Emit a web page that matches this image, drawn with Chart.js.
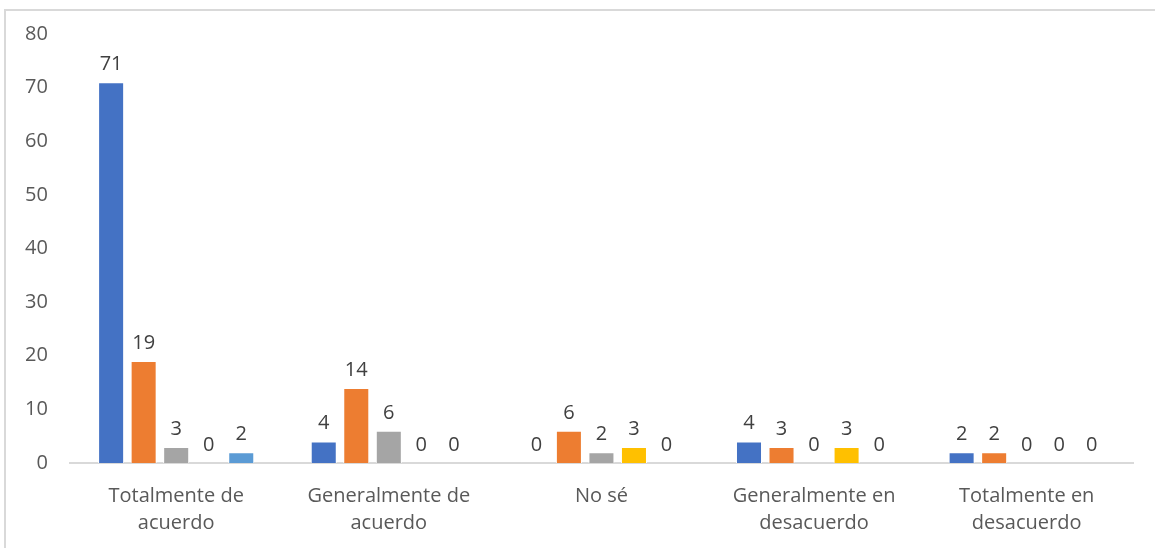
<!DOCTYPE html>
<html>
<head>
<meta charset="utf-8">
<script src="https://cdn.jsdelivr.net/npm/chart.js@4"></script>
<style>
  html, body { margin: 0; padding: 0; background: #fff; overflow: hidden; }
  #wrap { position: absolute; left: 0; top: 0; width: 1155px; height: 548px; }
  #frame { position: absolute; left: 4px; top: 9px; width: 1160px; height: 560px;
           border-left: 2px solid #d9d9d9; border-top: 2px solid #d9d9d9; }
</style>
</head>
<body>
<div id="frame"></div>
<div id="wrap"><canvas id="myChart"></canvas></div>
<script>
// categorias y valores de cada serie
var categorias = [
    ['Totalmente de', 'acuerdo'],
    ['Generalmente de', 'acuerdo'],
    'No sé',
    ['Generalmente en', 'desacuerdo'],
    ['Totalmente en', 'desacuerdo']
];
var serie1 = [71, 4, 0, 4, 2];
var serie2 = [19, 14, 6, 3, 2];
var serie3 = [3, 6, 2, 0, 0];
var serie4 = [0, 0, 3, 3, 0];
var serie5 = [2, 0, 0, 0, 0];
var yTicks = [0, 10, 20, 30, 40, 50, 60, 70, 80];

var colores = ['#4472C4', '#ED7D31', '#A5A5A5', '#FFC000', '#5B9BD5'];
var fuente = '"Open Sans", sans-serif';

// etiquetas de valor encima de cada barra
var valueLabels = {
    id: 'valueLabels',
    afterDatasetsDraw: function (chart) {
        var ctx = chart.ctx;
        ctx.save();
        ctx.font = '20px ' + fuente;
        ctx.fillStyle = '#404040';
        ctx.textAlign = 'center';
        ctx.textBaseline = 'bottom';
        chart.data.datasets.forEach(function (ds, i) {
            chart.getDatasetMeta(i).data.forEach(function (bar, j) {
                ctx.fillText(String(ds.data[j]), bar.x, bar.y - 8);
            });
        });
        ctx.restore();
    }
};

var series = [serie1, serie2, serie3, serie4, serie5];
var ctx = document.getElementById('myChart');
var myChart = new Chart(ctx, {
    type: 'bar',
    data: {
        labels: categorias,
        datasets: series.map(function (s, i) {
            return {
                label: 'Serie ' + (i + 1),
                data: s,
                backgroundColor: colores[i],
                borderColor: '#ffffff',
                borderWidth: 1,
                categoryPercentage: 0.765,
                barPercentage: 0.8
            };
        })
    },
    options: {
        responsive: true,
        maintainAspectRatio: false,
        animation: false,
        layout: {
            padding: { left: 3, right: 22, top: 34, bottom: -9 }
        },
        plugins: {
            legend: { display: false },
            tooltip: { enabled: false }
        },
        scales: {
            x: {
                grid: { display: false, drawTicks: false },
                border: { display: true, color: '#d9d9d9', width: 2 },
                ticks: {
                    color: '#595959',
                    font: { size: 20, family: fuente, lineHeight: 1.35 },
                    padding: 20,
                    maxRotation: 0
                }
            },
            y: {
                min: 0,
                max: 80,
                afterBuildTicks: function (axis) {
                    axis.ticks = yTicks.map(function (v) { return { value: v }; });
                },
                grid: { display: false, drawTicks: false },
                border: { display: false },
                ticks: {
                    color: '#595959',
                    font: { size: 20, family: fuente },
                    padding: 22
                }
            }
        }
    },
    plugins: [valueLabels]
});
</script>
</body>
</html>
